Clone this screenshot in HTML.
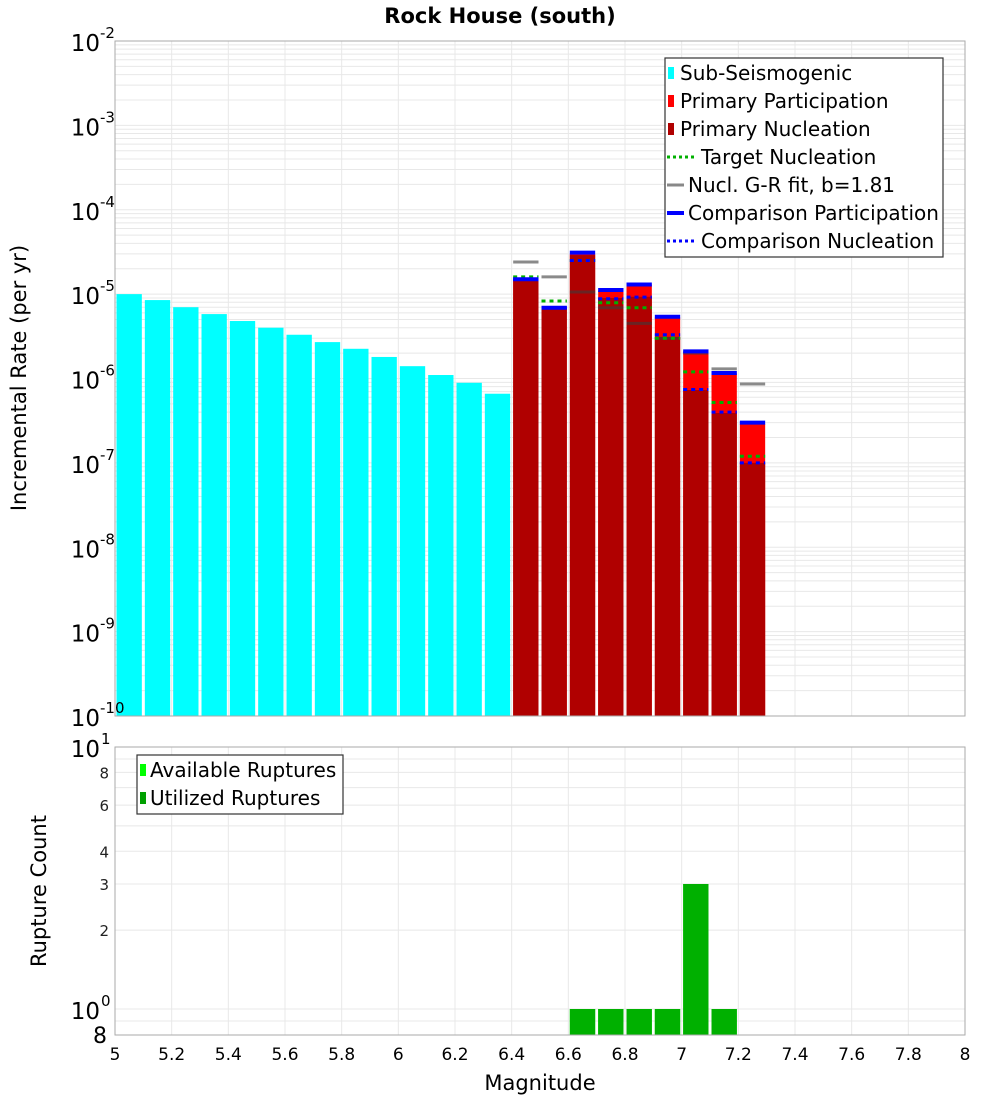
<!DOCTYPE html>
<html><head><meta charset="utf-8"><style>
body{margin:0;background:#fff;}
svg{display:block;font-family:"DejaVu Sans","Liberation Sans",sans-serif;}
</style></head><body>
<svg id="chart" width="1000" height="1100" xmlns="http://www.w3.org/2000/svg">
<text x="500" y="23" text-anchor="middle" font-size="21" font-weight="bold">Rock House (south)</text>
<g id="topG"></g>
<g id="botG"></g>
<text transform="translate(26,378) rotate(-90)" text-anchor="middle" font-size="21">Incremental Rate (per yr)</text>
<text transform="translate(46,891) rotate(-90)" text-anchor="middle" font-size="21">Rupture Count</text>
<text x="540" y="1090" text-anchor="middle" font-size="21">Magnitude</text>
<g>
<rect x="665" y="58" width="278" height="199" fill="#fff" stroke="#333" stroke-width="1.2"/>
<rect x="668" y="67" width="6" height="12" fill="#00ffff"/><text x="680" y="80" font-size="20">Sub-Seismogenic</text>
<rect x="668" y="95" width="6" height="12" fill="#ff0000"/><text x="680" y="108" font-size="20">Primary Participation</text>
<rect x="668" y="123" width="6" height="12" fill="#b00000"/><text x="680" y="136" font-size="20">Primary Nucleation</text>
<line x1="667" y1="157" x2="694" y2="157" stroke="#00b000" stroke-width="3" stroke-dasharray="3,3"/><text x="701" y="164" font-size="20">Target Nucleation</text>
<line x1="667" y1="185" x2="684" y2="185" stroke="#888" stroke-width="3"/><text x="688" y="192" font-size="20">Nucl. G-R fit, b=1.81</text>
<line x1="667" y1="213" x2="684" y2="213" stroke="#0000ff" stroke-width="4"/><text x="688" y="220" font-size="20">Comparison Participation</text>
<line x1="667" y1="241" x2="694" y2="241" stroke="#0000ff" stroke-width="3" stroke-dasharray="3,3"/><text x="701" y="248" font-size="20">Comparison Nucleation</text>
</g>
<g>
<rect x="137" y="755" width="206" height="59" fill="#fff" stroke="#333" stroke-width="1.2"/>
<rect x="140" y="764" width="6" height="12" fill="#00ff00"/><text x="150" y="777" font-size="20">Available Ruptures</text>
<rect x="140" y="792" width="6" height="12" fill="#00a000"/><text x="150" y="805" font-size="20">Utilized Ruptures</text>
</g>
</svg>
<script>
const subMags=[5.05,5.15,5.25,5.35,5.45,5.55,5.65,5.75,5.85,5.95,6.05,6.15,6.25,6.35];
const subRates=[1.0e-5,8.5e-6,7.0e-6,5.8e-6,4.8e-6,4.0e-6,3.3e-6,2.7e-6,2.25e-6,1.8e-6,1.4e-6,1.1e-6,8.9e-7,6.6e-7];
const primMags=[6.45,6.55,6.65,6.75,6.85,6.95,7.05,7.15,7.25];
const partRates=[1.5e-5,6.9e-6,3.0e-5,1.1e-5,1.3e-5,5.3e-6,2.1e-6,1.15e-6,2.9e-7];
const nuclRates=[1.5e-5,6.9e-6,2.9e-5,9.0e-6,9.3e-6,3.1e-6,7.3e-7,3.9e-7,1.0e-7];
const targetNucl=[1.6e-5,8.3e-6,2.5e-5,7.9e-6,6.9e-6,3.0e-6,1.2e-6,5.2e-7,1.2e-7];
const grFit=[2.4e-5,1.6e-5,1.06e-5,6.9e-6,4.5e-6,3.0e-6,2.0e-6,1.3e-6,8.6e-7];
const compPart=[1.5e-5,6.9e-6,3.1e-5,1.12e-5,1.3e-5,5.4e-6,2.1e-6,1.16e-6,3.0e-7];
const compNucl=[1.5e-5,6.9e-6,2.5e-5,8.8e-6,9.2e-6,3.3e-6,7.4e-7,4.0e-7,1.0e-7];
const countMags=[6.65,6.75,6.85,6.95,7.05,7.15];
const availCounts=[1,1,1,1,3,1];
const usedCounts=[1,1,1,1,3,1];
const xTicks=[5,5.2,5.4,5.6,5.8,6,6.2,6.4,6.6,6.8,7,7.2,7.4,7.6,7.8,8];
const topExps=[-2,-3,-4,-5,-6,-7,-8,-9,-10];

const NS="http://www.w3.org/2000/svg";
const X0=115,X1=965;
const xs=m=>X0+(m-5)/3*(X1-X0);
const T0=41,T1=716;
const yTop=v=>T0+(-2-Math.log10(v))*(T1-T0)/8;
const B0=747,B1=1035,BD=262;
const yBot=v=>B0+(1-Math.log10(v))*BD;
function el(p,tag,a){const e=document.createElementNS(NS,tag);for(const k in a)e.setAttribute(k,a[k]);p.appendChild(e);return e;}
const topG=document.getElementById('topG'),botG=document.getElementById('botG');

for(let d=-10;d<-2;d++)for(let k=1;k<10;k++){const y=yTop(k*Math.pow(10,d));if(y<T0)continue;
 const g=el(topG,'line',{x1:X0,x2:X1,y1:y,y2:y,stroke:'#e8e8e8','stroke-width':1});
 
 }
xTicks.forEach(m=>{const g=el(topG,'line',{x1:xs(m),x2:xs(m),y1:T0,y2:T1,stroke:'#e8e8e8'});
 
 
 const g2=el(botG,'line',{x1:xs(m),x2:xs(m),y1:B0,y2:B1,stroke:'#e8e8e8'});
 
 });
[0.9,1,2,3,4,5,6,7,8,9,10].forEach(v=>{const y=yBot(v);const g=el(botG,'line',{x1:X0,x2:X1,y1:y,y2:y,stroke:'#e8e8e8'});
 
 });

const hw=0.05;
function bar(par,m,v,col,name,yf,base){const x=xs(m-hw)+1.5,w=xs(m+hw)-xs(m-hw)-3,y=yf(v);
 const r=el(par,'rect',{x:x,y:y,width:w,height:Math.max(0,base-y),fill:col});
 
 }
function seg(par,m,v,col,sw,dash,name){const y=yTop(v);
 const a={x1:xs(m-hw)+1.5,x2:xs(m+hw)-1.5,y1:y,y2:y,stroke:col,'stroke-width':sw};if(dash)a['stroke-dasharray']=dash;
 const l=el(par,'line',a);
 
 }

subMags.forEach((m,i)=>bar(topG,m,subRates[i],'#00ffff','sub-seismogenic-bar',yTop,T1));
primMags.forEach((m,i)=>bar(topG,m,partRates[i],'#ff0000','participation-bar',yTop,T1));
primMags.forEach((m,i)=>bar(topG,m,nuclRates[i],'#b00000','nucleation-bar',yTop,T1));
primMags.forEach((m,i)=>seg(topG,m,grFit[i],'rgba(60,60,60,0.6)',3,null,'gr-fit-segment'));
primMags.forEach((m,i)=>seg(topG,m,targetNucl[i],'#00b000',3,'4,4','target-nucleation-segment'));
primMags.forEach((m,i)=>seg(topG,m,compNucl[i],'#0000ff',3,'4,4','comparison-nucleation-segment'));
primMags.forEach((m,i)=>seg(topG,m,compPart[i],'#0000ff',4,null,'comparison-participation-segment'));

countMags.forEach((m,i)=>bar(botG,m,availCounts[i],'#00ff00','available-ruptures-bar',yBot,B1));
countMags.forEach((m,i)=>bar(botG,m,usedCounts[i],'#00b000','utilized-ruptures-bar',yBot,B1));

let f=el(topG,'rect',{x:X0,y:T0,width:X1-X0,height:T1-T0,fill:'none',stroke:'#aaa'});


f=el(botG,'rect',{x:X0,y:B0,width:X1-X0,height:B1-B0,fill:'none',stroke:'#aaa'});



topExps.forEach(e=>{const y=yTop(Math.pow(10,e));
 const t=el(topG,'text',{x:100,y:y+10,'text-anchor':'end','font-size':23});t.textContent='10';
 
 
 const s=el(topG,'text',{x:100,y:y-3,'font-size':15});s.textContent=String(e);
 
 });
[[10,'1'],[1,'0']].forEach(p=>{const y=yBot(p[0]);
 const t=el(botG,'text',{x:100,y:y+10,'text-anchor':'end','font-size':23});t.textContent='10';
 
 
 const s=el(botG,'text',{x:101,y:y-3,'font-size':15});s.textContent=p[1];
 
 });
[8,6,4,3,2].forEach(v=>{const t=el(botG,'text',{x:109,y:yBot(v)+6,'text-anchor':'end','font-size':15,fill:'#222'});t.textContent=String(v);
 
 });
{const t=el(botG,'text',{x:107,y:1043,'text-anchor':'end','font-size':22});t.textContent='8';
 
 }
xTicks.forEach(m=>{const t=el(botG,'text',{x:xs(m),y:1060,'text-anchor':'middle','font-size':17});
 t.textContent=String(m);
 
 });
</script>
</body></html>
